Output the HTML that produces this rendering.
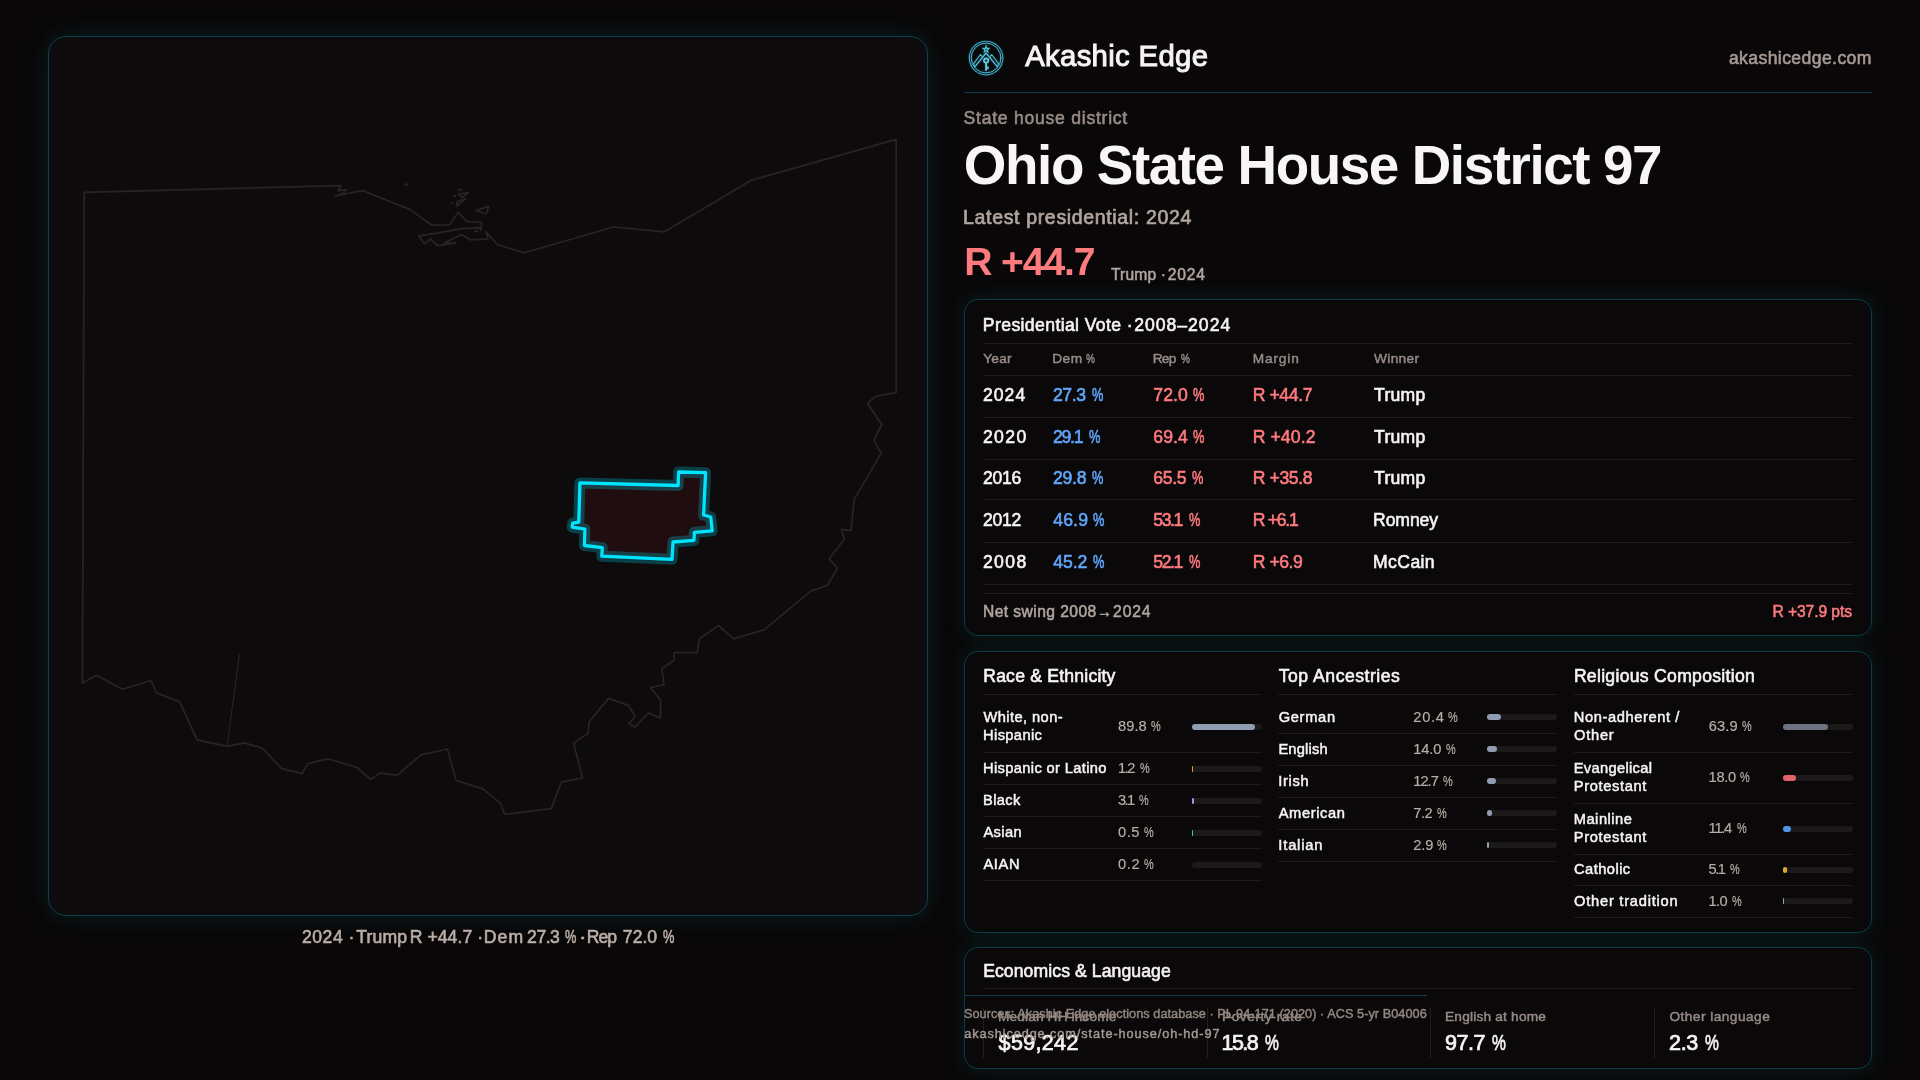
<!DOCTYPE html>
<html lang="en"><head><meta charset="utf-8"><title>Ohio State House District 97 · Akashic Edge</title>
<style>
html,body{margin:0;padding:0}
body{width:1920px;height:1080px;overflow:hidden;background:#090708;font-family:"Liberation Sans",sans-serif;position:relative}
.t{position:absolute;white-space:pre;line-height:1;display:block}
.hl{position:absolute}
.panel{position:absolute;box-sizing:border-box;border:1px solid #0b4250;border-radius:18px;background:#0d0b0c;box-shadow:0 0 24px rgba(0,232,240,.1)}
.card{position:absolute;box-sizing:border-box;border:1px solid #093c48;border-radius:14px;background:#0a0809;box-shadow:0 0 22px rgba(0,232,240,.1)}
.bar{position:absolute;border-radius:3px;background:#1b191a}
.bar i{display:block;height:100%;border-radius:3px}
svg{position:absolute;left:0;top:0}
</style></head><body>
<div id="page" style="position:absolute;left:0;top:0;width:1920px;height:1080px;will-change:transform">

<section class="panel" style="left:48px;top:36px;width:880px;height:880px"></section>
<svg width="1920" height="1080" viewBox="0 0 1920 1080" aria-label="Ohio map with House District 97 highlighted">
<g fill="none" stroke="#282423" stroke-width="1.7" stroke-linejoin="round">
<path d="M84.2 192.4 L320.0 186.2 L340.6 185.6 L338.2 190.6 L346.0 189.6 L343.6 193.6 L335.0 196.0 L362.5 190.6 L409.8 209.4 L431.9 225.2 L449.4 225.0 L458.1 212.5 L466.9 221.5 L481.6 222.5 L480.8 230.4 L479.4 227.6 L462.5 228.6 L418.8 236.2 L424.4 243.8 L430.6 238.8 L437.5 245.6 L455.6 243.1 L444.0 242.9 L461.9 234.6 L470.6 240.0 L488.1 238.8 L485.6 231.2 L497.5 244.8 L524.4 252.8 L613.5 227.0 L664.5 231.8 L751.2 180.3 L896.2 139.4 L896.3 392.5 L875.6 396.4 L867.4 403.4 L881.8 424.5 L873.9 440.2 L881.1 453.4 L854.1 499.6 L851.0 530.5 L841.4 529.3 L844.5 538.9 L829.3 558.6 L837.3 568.5 L827.4 585.3 L810.8 591.1 L764.0 629.8 L733.8 638.8 L718.4 625.6 L699.3 639.0 L697.2 652.4 L674.2 652.6 L674.2 660.0 L661.8 668.8 L664.1 684.5 L650.7 687.7 L660.7 700.1 L660.3 717.8 L648.2 713.1 L634.8 727.1 L629.0 723.5 L635.2 716.5 L628.4 705.4 L608.6 698.4 L589.0 722.0 L588.3 733.1 L573.6 743.1 L582.6 778.0 L561.3 782.1 L551.3 808.7 L504.5 814.2 L500.4 803.1 L482.8 788.9 L456.1 780.5 L447.3 749.0 L420.9 754.8 L397.5 775.1 L379.9 773.1 L370.8 779.4 L356.9 767.5 L327.8 758.8 L307.9 763.6 L302.0 773.6 L281.3 768.4 L262.3 748.2 L244.7 742.9 L227.1 746.4 L197.2 739.9 L179.6 701.9 L156.4 692.8 L150.9 680.5 L122.4 689.3 L96.4 675.2 L82.4 683.1 Z"/>
<path d="M239.4 654.4 L227.1 746.4" stroke-width="1.1"/>
<path d="M476.25 210.6 L488.75 206.25 L486.25 214 Z"/>
<path d="M456.25 206.25 L465.6 198.75 L457.5 201.25 Z M458.75 193.75 L468.75 192.75 L461.9 197.5 Z M457.5 189.4 L463 190.2 M453.1 195.4 L456.25 196.6 M450.6 202.25 L453 203"/>
<path d="M405.4 185.2 L406.3 183.8 L407.2 185.2 Z M475.2 231.6 L476.2 230.4 L477.2 231.7 Z"/>
</g>
<path d="M579.9 482.9 L678.1 485.5 L678.6 472.0 L705.6 472.7 L703.6 515.0 L710.7 517.0 L712.2 530.8 L694.4 532.3 L693.9 540.4 L673.0 542.0 L672.0 559.3 L601.8 556.2 L602.3 547.6 L584.4 545.5 L584.9 529.2 L572.2 527.2 L572.7 523.1 L578.8 522.1 Z" fill="#1f0d0f" stroke="#00e5ff" stroke-opacity=".24" stroke-width="11" stroke-linejoin="round"/>
<path d="M579.9 482.9 L678.1 485.5 L678.6 472.0 L705.6 472.7 L703.6 515.0 L710.7 517.0 L712.2 530.8 L694.4 532.3 L693.9 540.4 L673.0 542.0 L672.0 559.3 L601.8 556.2 L602.3 547.6 L584.4 545.5 L584.9 529.2 L572.2 527.2 L572.7 523.1 L578.8 522.1 Z" fill="none" stroke="#00e5ff" stroke-width="3.3" stroke-linejoin="round"/>
</svg>
<span id="t1" class="t" style="left:302.10px;top:929.00px;font-size:17.60px;font-weight:400;color:#b9aea7;letter-spacing:0.480px;-webkit-text-stroke:0.60px #b9aea7;">2024 ·</span><span id="t2" class="t" style="left:356.23px;top:929.00px;font-size:17.60px;font-weight:400;color:#b9aea7;letter-spacing:0.151px;-webkit-text-stroke:0.60px #b9aea7;">Trump</span><span id="t3" class="t" style="left:409.76px;top:929.00px;font-size:17.60px;font-weight:400;color:#b9aea7;letter-spacing:0.055px;-webkit-text-stroke:0.60px #b9aea7;">R +44.7 ·</span><span id="t4" class="t" style="left:483.76px;top:929.00px;font-size:17.60px;font-weight:400;color:#b9aea7;letter-spacing:1.073px;-webkit-text-stroke:0.60px #b9aea7;">Dem</span><span id="t5" class="t" style="left:527.10px;top:929.00px;font-size:17.60px;font-weight:400;color:#b9aea7;letter-spacing:-0.503px;-webkit-text-stroke:0.60px #b9aea7;">27.3</span><span id="t6" class="t" style="left:565.33px;top:929.00px;font-size:17.60px;font-weight:400;color:#b9aea7;-webkit-text-stroke:0.60px #b9aea7;transform:scaleX(0.728);transform-origin:0 0;">%</span><span id="t7" class="t" style="left:579.12px;top:929.00px;font-size:17.60px;font-weight:400;color:#b9aea7;-webkit-text-stroke:0.60px #b9aea7;transform:scaleX(1.269);transform-origin:0 0;">·</span><span id="t8" class="t" style="left:586.86px;top:929.00px;font-size:17.60px;font-weight:400;color:#b9aea7;letter-spacing:-1.038px;-webkit-text-stroke:0.60px #b9aea7;">Rep</span><span id="t9" class="t" style="left:622.87px;top:929.00px;font-size:17.60px;font-weight:400;color:#b9aea7;letter-spacing:-0.008px;-webkit-text-stroke:0.60px #b9aea7;">72.0</span><span id="t10" class="t" style="left:662.63px;top:929.00px;font-size:17.60px;font-weight:400;color:#b9aea7;-webkit-text-stroke:0.60px #b9aea7;transform:scaleX(0.728);transform-origin:0 0;">%</span>
<header>
<svg width="1920" height="1080" viewBox="0 0 1920 1080" aria-label="Akashic Edge logo">
<defs><filter id="lg" x="-30%" y="-30%" width="160%" height="160%"><feGaussianBlur stdDeviation="1.1"/></filter></defs>
<g transform="translate(986.1 58)">
<g filter="url(#lg)" opacity=".36" fill="none" stroke="#55c6e0" stroke-width="1.15" stroke-linecap="round" stroke-linejoin="round">
<circle r="16.8" stroke="#3ba5c1" stroke-width="1.15"/><circle r="14.9" stroke="#4bbbd6" stroke-width="1"/>
<path d="M-10.9 8.4 L0 -5 L10.9 8.4" stroke-width="1.25"/>
<path d="M-12.6 5.9 L-5.6 -3.5 L-3.5 -0.9 M12.6 5.9 L5.6 -3.5 L3.5 -0.9" stroke-width="1.1" stroke="#4cb9d4"/>
<path d="M-12.6 5.9 L-10.9 8.4 M12.6 5.9 L10.9 8.4" stroke-width=".9" stroke="#4cb9d4"/>
<path d="M0.00 -12.70 L0.94 -9.89 L3.90 -9.87 L1.52 -8.11 L2.41 -5.28 L0.00 -7.00 L-2.41 -5.28 L-1.52 -8.11 L-3.90 -9.87 L-0.94 -9.89 Z" fill="#55c6e0" stroke-width=".5"/>
<circle cx="0" cy="-8.5" r=".8" fill="#071216" stroke="none"/>
<circle cx="0" cy="2.6" r="2.15" stroke-width="1.7" stroke="#62d0e8"/>
<path d="M0 4.8 L0 12.8" stroke-width="1.8" stroke="#62d0e8" stroke-linecap="butt"/>
<path d="M.8 8.5 L2.7 8.5 L2.7 11.1 L.8 11.1 Z" fill="#62d0e8" stroke="none"/>
<rect x="1.5" y="9.4" width=".6" height=".8" fill="#0a0809" stroke="none"/>
</g>
<g fill="none" stroke="#55c6e0" stroke-width="1.15" stroke-linecap="round" stroke-linejoin="round">
<circle r="16.8" stroke="#3ba5c1" stroke-width="1.15"/><circle r="14.9" stroke="#4bbbd6" stroke-width="1"/>
<path d="M-10.9 8.4 L0 -5 L10.9 8.4" stroke-width="1.25"/>
<path d="M-12.6 5.9 L-5.6 -3.5 L-3.5 -0.9 M12.6 5.9 L5.6 -3.5 L3.5 -0.9" stroke-width="1.1" stroke="#4cb9d4"/>
<path d="M-12.6 5.9 L-10.9 8.4 M12.6 5.9 L10.9 8.4" stroke-width=".9" stroke="#4cb9d4"/>
<path d="M0.00 -12.70 L0.94 -9.89 L3.90 -9.87 L1.52 -8.11 L2.41 -5.28 L0.00 -7.00 L-2.41 -5.28 L-1.52 -8.11 L-3.90 -9.87 L-0.94 -9.89 Z" fill="#55c6e0" stroke-width=".5"/>
<circle cx="0" cy="-8.5" r=".8" fill="#071216" stroke="none"/>
<circle cx="0" cy="2.6" r="2.15" stroke-width="1.7" stroke="#62d0e8"/>
<path d="M0 4.8 L0 12.8" stroke-width="1.8" stroke="#62d0e8" stroke-linecap="butt"/>
<path d="M.8 8.5 L2.7 8.5 L2.7 11.1 L.8 11.1 Z" fill="#62d0e8" stroke="none"/>
<rect x="1.5" y="9.4" width=".6" height=".8" fill="#0a0809" stroke="none"/>
</g>
</g></svg>
<span id="t11" class="t" style="left:1025.14px;top:41.00px;font-size:29.34px;font-weight:400;color:#f6f4f2;letter-spacing:0.323px;-webkit-text-stroke:1.00px #f6f4f2;">Akashic Edge</span>
<span id="t12" class="t" style="left:1728.93px;top:50.00px;font-size:17.60px;font-weight:400;color:#a59a94;letter-spacing:0.398px;-webkit-text-stroke:0.60px #a59a94;">akashicedge.com</span>
<div class="hl" style="left:964px;top:92px;width:908px;height:1px;background:#0d3f4d"></div>
</header>
<main>
<span id="t13" class="t" style="left:963.60px;top:110.00px;font-size:17.60px;font-weight:400;color:#968b86;letter-spacing:0.736px;-webkit-text-stroke:0.60px #968b86;">State house district</span>
<h1 style="margin:0;font-weight:inherit;font-size:inherit"><span id="t14" class="t" style="left:963.83px;top:138.00px;font-size:54.77px;font-weight:700;color:#f8f6f4;letter-spacing:-1.401px;">Ohio State House District 97</span></h1>
<span id="t15" class="t" style="left:963.12px;top:208.00px;font-size:19.56px;font-weight:400;color:#b0a59f;letter-spacing:0.634px;-webkit-text-stroke:0.67px #b0a59f;">Latest presidential: 2024</span>
<span id="t16" class="t" style="left:964.29px;top:242.00px;font-size:39.12px;font-weight:700;color:#fd7a7f;letter-spacing:-1.145px;">R +44.7</span>
<span id="t17" class="t" style="left:1110.98px;top:267.00px;font-size:15.65px;font-weight:400;color:#b0a59f;letter-spacing:0.133px;-webkit-text-stroke:0.53px #b0a59f;">Trump ·</span><span id="t18" class="t" style="left:1167.73px;top:267.00px;font-size:15.65px;font-weight:400;color:#b0a59f;letter-spacing:0.845px;-webkit-text-stroke:0.53px #b0a59f;">2024</span>
<section class="card" style="left:964px;top:299px;width:908px;height:337px"></section>
<span id="t19" class="t" style="left:982.86px;top:317.00px;font-size:17.60px;font-weight:400;color:#f6f4f2;letter-spacing:0.385px;-webkit-text-stroke:0.60px #f6f4f2;">Presidential Vote ·</span><span id="t20" class="t" style="left:1134.20px;top:317.00px;font-size:17.60px;font-weight:400;color:#f6f4f2;letter-spacing:0.994px;-webkit-text-stroke:0.60px #f6f4f2;">2008–2024</span>
<div class="hl" style="left:983px;top:343px;width:870px;height:1px;background:#1c1a1b"></div>
<span id="t21" class="t" style="left:983.18px;top:352.00px;font-size:13.69px;font-weight:400;color:#968b86;letter-spacing:0.241px;-webkit-text-stroke:0.47px #968b86;">Year</span>
<span id="t22" class="t" style="left:1052.30px;top:352.00px;font-size:13.69px;font-weight:400;color:#968b86;letter-spacing:0.425px;-webkit-text-stroke:0.47px #968b86;">Dem</span><span id="t23" class="t" style="left:1085.97px;top:352.00px;font-size:13.69px;font-weight:400;color:#968b86;-webkit-text-stroke:0.47px #968b86;transform:scaleX(0.733);transform-origin:0 0;">%</span>
<span id="t24" class="t" style="left:1152.70px;top:352.00px;font-size:13.69px;font-weight:400;color:#968b86;letter-spacing:-0.745px;-webkit-text-stroke:0.47px #968b86;">Rep</span><span id="t25" class="t" style="left:1180.57px;top:352.00px;font-size:13.69px;font-weight:400;color:#968b86;-webkit-text-stroke:0.47px #968b86;transform:scaleX(0.733);transform-origin:0 0;">%</span>
<span id="t26" class="t" style="left:1252.70px;top:352.00px;font-size:13.69px;font-weight:400;color:#968b86;letter-spacing:0.843px;-webkit-text-stroke:0.47px #968b86;">Margin</span>
<span id="t27" class="t" style="left:1374.10px;top:352.00px;font-size:13.69px;font-weight:400;color:#968b86;letter-spacing:0.303px;-webkit-text-stroke:0.47px #968b86;">Winner</span>
<div class="hl" style="left:983px;top:375px;width:870px;height:1px;background:#1c1a1b"></div>
<span id="t28" class="t" style="left:982.90px;top:387.00px;font-size:17.60px;font-weight:400;color:#f6f4f2;letter-spacing:1.052px;-webkit-text-stroke:0.60px #f6f4f2;">2024</span>
<span id="t29" class="t" style="left:1052.90px;top:387.00px;font-size:17.60px;font-weight:400;color:#60a5fa;letter-spacing:-0.369px;-webkit-text-stroke:0.60px #60a5fa;">27.3</span><span id="t30" class="t" style="left:1091.53px;top:387.00px;font-size:17.60px;font-weight:400;color:#60a5fa;-webkit-text-stroke:0.60px #60a5fa;transform:scaleX(0.728);transform-origin:0 0;">%</span>
<span id="t31" class="t" style="left:1153.27px;top:387.00px;font-size:17.60px;font-weight:400;color:#fd7a7f;letter-spacing:0.125px;-webkit-text-stroke:0.60px #fd7a7f;">72.0</span><span id="t32" class="t" style="left:1193.43px;top:387.00px;font-size:17.60px;font-weight:400;color:#fd7a7f;-webkit-text-stroke:0.60px #fd7a7f;transform:scaleX(0.728);transform-origin:0 0;">%</span>
<span id="t33" class="t" style="left:1252.66px;top:387.00px;font-size:17.60px;font-weight:400;color:#fd7a7f;letter-spacing:-0.388px;-webkit-text-stroke:0.60px #fd7a7f;">R +44.7</span>
<span id="t34" class="t" style="left:1374.08px;top:387.00px;font-size:17.60px;font-weight:400;color:#f6f4f2;letter-spacing:0.251px;-webkit-text-stroke:0.60px #f6f4f2;">Trump</span>
<div class="hl" style="left:983px;top:417px;width:870px;height:1px;background:#1c1a1b"></div>
<span id="t35" class="t" style="left:982.90px;top:429.00px;font-size:17.60px;font-weight:400;color:#f6f4f2;letter-spacing:1.380px;-webkit-text-stroke:0.60px #f6f4f2;">2020</span>
<span id="t36" class="t" style="left:1052.90px;top:429.00px;font-size:17.60px;font-weight:400;color:#60a5fa;letter-spacing:-1.171px;-webkit-text-stroke:0.60px #60a5fa;">29.1</span><span id="t37" class="t" style="left:1089.13px;top:429.00px;font-size:17.60px;font-weight:400;color:#60a5fa;-webkit-text-stroke:0.60px #60a5fa;transform:scaleX(0.728);transform-origin:0 0;">%</span>
<span id="t38" class="t" style="left:1153.26px;top:429.00px;font-size:17.60px;font-weight:400;color:#fd7a7f;letter-spacing:0.109px;-webkit-text-stroke:0.60px #fd7a7f;">69.4</span><span id="t39" class="t" style="left:1193.43px;top:429.00px;font-size:17.60px;font-weight:400;color:#fd7a7f;-webkit-text-stroke:0.60px #fd7a7f;transform:scaleX(0.728);transform-origin:0 0;">%</span>
<span id="t40" class="t" style="left:1252.66px;top:429.00px;font-size:17.60px;font-weight:400;color:#fd7a7f;letter-spacing:0.112px;-webkit-text-stroke:0.60px #fd7a7f;">R +40.2</span>
<span id="t41" class="t" style="left:1374.08px;top:429.00px;font-size:17.60px;font-weight:400;color:#f6f4f2;letter-spacing:0.251px;-webkit-text-stroke:0.60px #f6f4f2;">Trump</span>
<div class="hl" style="left:983px;top:459px;width:870px;height:1px;background:#1c1a1b"></div>
<span id="t42" class="t" style="left:982.90px;top:470.00px;font-size:17.60px;font-weight:400;color:#f6f4f2;letter-spacing:-0.247px;-webkit-text-stroke:0.60px #f6f4f2;">2016</span>
<span id="t43" class="t" style="left:1052.90px;top:470.00px;font-size:17.60px;font-weight:400;color:#60a5fa;letter-spacing:-0.171px;-webkit-text-stroke:0.60px #60a5fa;">29.8</span><span id="t44" class="t" style="left:1092.13px;top:470.00px;font-size:17.60px;font-weight:400;color:#60a5fa;-webkit-text-stroke:0.60px #60a5fa;transform:scaleX(0.728);transform-origin:0 0;">%</span>
<span id="t45" class="t" style="left:1153.26px;top:470.00px;font-size:17.60px;font-weight:400;color:#fd7a7f;letter-spacing:-0.296px;-webkit-text-stroke:0.60px #fd7a7f;">65.5</span><span id="t46" class="t" style="left:1192.13px;top:470.00px;font-size:17.60px;font-weight:400;color:#fd7a7f;-webkit-text-stroke:0.60px #fd7a7f;transform:scaleX(0.728);transform-origin:0 0;">%</span>
<span id="t47" class="t" style="left:1252.66px;top:470.00px;font-size:17.60px;font-weight:400;color:#fd7a7f;letter-spacing:-0.363px;-webkit-text-stroke:0.60px #fd7a7f;">R +35.8</span>
<span id="t48" class="t" style="left:1374.08px;top:470.00px;font-size:17.60px;font-weight:400;color:#f6f4f2;letter-spacing:0.251px;-webkit-text-stroke:0.60px #f6f4f2;">Trump</span>
<div class="hl" style="left:983px;top:499px;width:870px;height:1px;background:#1c1a1b"></div>
<span id="t49" class="t" style="left:982.90px;top:512.00px;font-size:17.60px;font-weight:400;color:#f6f4f2;letter-spacing:-0.223px;-webkit-text-stroke:0.60px #f6f4f2;">2012</span>
<span id="t50" class="t" style="left:1053.25px;top:512.00px;font-size:17.60px;font-weight:400;color:#60a5fa;letter-spacing:0.151px;-webkit-text-stroke:0.60px #60a5fa;">46.9</span><span id="t51" class="t" style="left:1093.43px;top:512.00px;font-size:17.60px;font-weight:400;color:#60a5fa;-webkit-text-stroke:0.60px #60a5fa;transform:scaleX(0.728);transform-origin:0 0;">%</span>
<span id="t52" class="t" style="left:1153.32px;top:512.00px;font-size:17.60px;font-weight:400;color:#fd7a7f;letter-spacing:-1.410px;-webkit-text-stroke:0.60px #fd7a7f;">53.1</span><span id="t53" class="t" style="left:1188.83px;top:512.00px;font-size:17.60px;font-weight:400;color:#fd7a7f;-webkit-text-stroke:0.60px #fd7a7f;transform:scaleX(0.728);transform-origin:0 0;">%</span>
<span id="t54" class="t" style="left:1252.66px;top:512.00px;font-size:17.60px;font-weight:400;color:#fd7a7f;letter-spacing:-1.253px;-webkit-text-stroke:0.60px #fd7a7f;">R +6.1</span>
<span id="t55" class="t" style="left:1373.06px;top:512.00px;font-size:17.60px;font-weight:400;color:#f6f4f2;letter-spacing:-0.089px;-webkit-text-stroke:0.60px #f6f4f2;">Romney</span>
<div class="hl" style="left:983px;top:542px;width:870px;height:1px;background:#1c1a1b"></div>
<span id="t56" class="t" style="left:982.90px;top:554.00px;font-size:17.60px;font-weight:400;color:#f6f4f2;letter-spacing:1.427px;-webkit-text-stroke:0.60px #f6f4f2;">2008</span>
<span id="t57" class="t" style="left:1053.25px;top:554.00px;font-size:17.60px;font-weight:400;color:#60a5fa;letter-spacing:-0.052px;-webkit-text-stroke:0.60px #60a5fa;">45.2</span><span id="t58" class="t" style="left:1092.83px;top:554.00px;font-size:17.60px;font-weight:400;color:#60a5fa;-webkit-text-stroke:0.60px #60a5fa;transform:scaleX(0.728);transform-origin:0 0;">%</span>
<span id="t59" class="t" style="left:1153.32px;top:554.00px;font-size:17.60px;font-weight:400;color:#fd7a7f;letter-spacing:-1.410px;-webkit-text-stroke:0.60px #fd7a7f;">52.1</span><span id="t60" class="t" style="left:1188.83px;top:554.00px;font-size:17.60px;font-weight:400;color:#fd7a7f;-webkit-text-stroke:0.60px #fd7a7f;transform:scaleX(0.728);transform-origin:0 0;">%</span>
<span id="t61" class="t" style="left:1252.66px;top:554.00px;font-size:17.60px;font-weight:400;color:#fd7a7f;letter-spacing:-0.429px;-webkit-text-stroke:0.60px #fd7a7f;">R +6.9</span>
<span id="t62" class="t" style="left:1373.06px;top:554.00px;font-size:17.60px;font-weight:400;color:#f6f4f2;letter-spacing:0.391px;-webkit-text-stroke:0.60px #f6f4f2;">McCain</span>
<div class="hl" style="left:983px;top:584px;width:870px;height:1px;background:#1c1a1b"></div>
<div class="hl" style="left:983px;top:593px;width:870px;height:1px;background:#1c1a1b"></div>
<span id="t63" class="t" style="left:983.00px;top:604.00px;font-size:15.65px;font-weight:400;color:#b0a59f;letter-spacing:0.422px;-webkit-text-stroke:0.53px #b0a59f;">Net swing 2008</span><span id="t64" class="t" style="left:1097.04px;top:604.00px;font-size:15.65px;font-weight:400;color:#b0a59f;-webkit-text-stroke:0.53px #b0a59f;transform:scaleX(0.972);transform-origin:0 0;">→</span><span id="t65" class="t" style="left:1113.03px;top:604.00px;font-size:15.65px;font-weight:400;color:#b0a59f;letter-spacing:0.912px;-webkit-text-stroke:0.53px #b0a59f;">2024</span>
<span id="t66" class="t" style="left:1772.50px;top:604.00px;font-size:15.65px;font-weight:400;color:#fd7a7f;letter-spacing:-0.097px;-webkit-text-stroke:0.53px #fd7a7f;">R +37.9 pts</span>
<section class="card" style="left:964px;top:651px;width:908px;height:282px"></section>
<span id="t67" class="t" style="left:983.22px;top:668.00px;font-size:17.60px;font-weight:400;color:#f6f4f2;letter-spacing:0.207px;-webkit-text-stroke:0.60px #f6f4f2;">Race &amp; Ethnicity</span>
<div class="hl" style="left:983px;top:694px;width:279px;height:1px;background:#1c1a1b"></div>
<span id="t68" class="t" style="left:983.38px;top:710.00px;font-size:14.67px;font-weight:400;color:#f6f4f2;letter-spacing:0.427px;-webkit-text-stroke:0.50px #f6f4f2;">White, non-</span>
<span id="t69" class="t" style="left:983.05px;top:728.00px;font-size:14.67px;font-weight:400;color:#f6f4f2;letter-spacing:0.372px;-webkit-text-stroke:0.50px #f6f4f2;">Hispanic</span>
<span id="t70" class="t" style="left:1118.07px;top:719.00px;font-size:14.67px;font-weight:400;color:#b9aea7;letter-spacing:0.025px;-webkit-text-stroke:0.18px #b9aea7;">89.8</span><span id="t71" class="t" style="left:1150.73px;top:719.00px;font-size:14.67px;font-weight:400;color:#b9aea7;-webkit-text-stroke:0.18px #b9aea7;transform:scaleX(0.745);transform-origin:0 0;">%</span>
<div class="bar" style="left:1192px;top:724px;width:70px;height:6px"><i style="width:62.86px;background:#8f9bb0"></i></div>
<div class="hl" style="left:983px;top:752px;width:279px;height:1px;background:#1c1a1b"></div>
<span id="t72" class="t" style="left:983.05px;top:761.00px;font-size:14.67px;font-weight:400;color:#f6f4f2;letter-spacing:0.360px;-webkit-text-stroke:0.50px #f6f4f2;">Hispanic or Latino</span>
<span id="t73" class="t" style="left:1117.95px;top:761.00px;font-size:14.67px;font-weight:400;color:#b9aea7;letter-spacing:-1.407px;-webkit-text-stroke:0.18px #b9aea7;">1.2</span><span id="t74" class="t" style="left:1139.68px;top:761.00px;font-size:14.67px;font-weight:400;color:#b9aea7;-webkit-text-stroke:0.18px #b9aea7;transform:scaleX(0.745);transform-origin:0 0;">%</span>
<div class="bar" style="left:1192px;top:766px;width:70px;height:6px"><i style="width:1.25px;background:#f59e0b"></i></div>
<div class="hl" style="left:983px;top:784px;width:279px;height:1px;background:#1c1a1b"></div>
<span id="t75" class="t" style="left:983.05px;top:793.00px;font-size:14.67px;font-weight:400;color:#f6f4f2;letter-spacing:0.357px;-webkit-text-stroke:0.50px #f6f4f2;">Black</span>
<span id="t76" class="t" style="left:1118.09px;top:793.00px;font-size:14.67px;font-weight:400;color:#b9aea7;letter-spacing:-1.615px;-webkit-text-stroke:0.18px #b9aea7;">3.1</span><span id="t77" class="t" style="left:1139.43px;top:793.00px;font-size:14.67px;font-weight:400;color:#b9aea7;-webkit-text-stroke:0.18px #b9aea7;transform:scaleX(0.745);transform-origin:0 0;">%</span>
<div class="bar" style="left:1192px;top:798px;width:70px;height:6px"><i style="width:2.17px;background:#a78bfa"></i></div>
<div class="hl" style="left:983px;top:816px;width:279px;height:1px;background:#1c1a1b"></div>
<span id="t78" class="t" style="left:983.38px;top:825.00px;font-size:14.67px;font-weight:400;color:#f6f4f2;letter-spacing:0.427px;-webkit-text-stroke:0.50px #f6f4f2;">Asian</span>
<span id="t79" class="t" style="left:1118.12px;top:825.00px;font-size:14.67px;font-weight:400;color:#b9aea7;letter-spacing:0.507px;-webkit-text-stroke:0.18px #b9aea7;">0.5</span><span id="t80" class="t" style="left:1143.73px;top:825.00px;font-size:14.67px;font-weight:400;color:#b9aea7;-webkit-text-stroke:0.18px #b9aea7;transform:scaleX(0.745);transform-origin:0 0;">%</span>
<div class="bar" style="left:1192px;top:830px;width:70px;height:6px"><i style="width:1.25px;background:#34d399"></i></div>
<div class="hl" style="left:983px;top:848px;width:279px;height:1px;background:#1c1a1b"></div>
<span id="t81" class="t" style="left:983.38px;top:857.00px;font-size:14.67px;font-weight:400;color:#f6f4f2;letter-spacing:0.664px;-webkit-text-stroke:0.50px #f6f4f2;">AIAN</span>
<span id="t82" class="t" style="left:1118.12px;top:857.00px;font-size:14.67px;font-weight:400;color:#b9aea7;letter-spacing:0.535px;-webkit-text-stroke:0.18px #b9aea7;">0.2</span><span id="t83" class="t" style="left:1143.73px;top:857.00px;font-size:14.67px;font-weight:400;color:#b9aea7;-webkit-text-stroke:0.18px #b9aea7;transform:scaleX(0.745);transform-origin:0 0;">%</span>
<div class="bar" style="left:1192px;top:862px;width:70px;height:6px"></div>
<div class="hl" style="left:983px;top:880px;width:279px;height:1px;background:#1c1a1b"></div>
<span id="t84" class="t" style="left:1278.76px;top:668.00px;font-size:17.60px;font-weight:400;color:#f6f4f2;letter-spacing:0.513px;-webkit-text-stroke:0.60px #f6f4f2;">Top Ancestries</span>
<div class="hl" style="left:1278px;top:694px;width:280px;height:1px;background:#1c1a1b"></div>
<span id="t85" class="t" style="left:1278.69px;top:710.00px;font-size:14.67px;font-weight:400;color:#f6f4f2;letter-spacing:0.681px;-webkit-text-stroke:0.50px #f6f4f2;">German</span>
<span id="t86" class="t" style="left:1413.36px;top:710.00px;font-size:14.67px;font-weight:400;color:#b9aea7;letter-spacing:0.632px;-webkit-text-stroke:0.18px #b9aea7;">20.4</span><span id="t87" class="t" style="left:1447.95px;top:710.00px;font-size:14.67px;font-weight:400;color:#b9aea7;-webkit-text-stroke:0.18px #b9aea7;transform:scaleX(0.745);transform-origin:0 0;">%</span>
<div class="bar" style="left:1487px;top:714px;width:70px;height:6px"><i style="width:14.28px;background:#8f9bb0"></i></div>
<div class="hl" style="left:1278px;top:733px;width:280px;height:1px;background:#1c1a1b"></div>
<span id="t88" class="t" style="left:1278.38px;top:742.00px;font-size:14.67px;font-weight:400;color:#f6f4f2;letter-spacing:0.201px;-webkit-text-stroke:0.50px #f6f4f2;">English</span>
<span id="t89" class="t" style="left:1413.28px;top:742.00px;font-size:14.67px;font-weight:400;color:#b9aea7;letter-spacing:-0.101px;-webkit-text-stroke:0.18px #b9aea7;">14.0</span><span id="t90" class="t" style="left:1445.61px;top:742.00px;font-size:14.67px;font-weight:400;color:#b9aea7;-webkit-text-stroke:0.18px #b9aea7;transform:scaleX(0.745);transform-origin:0 0;">%</span>
<div class="bar" style="left:1487px;top:746px;width:70px;height:6px"><i style="width:9.80px;background:#8f9bb0"></i></div>
<div class="hl" style="left:1278px;top:765px;width:280px;height:1px;background:#1c1a1b"></div>
<span id="t91" class="t" style="left:1278.36px;top:774.00px;font-size:14.67px;font-weight:400;color:#f6f4f2;letter-spacing:0.636px;-webkit-text-stroke:0.50px #f6f4f2;">Irish</span>
<span id="t92" class="t" style="left:1413.28px;top:774.00px;font-size:14.67px;font-weight:400;color:#b9aea7;letter-spacing:-1.004px;-webkit-text-stroke:0.18px #b9aea7;">12.7</span><span id="t93" class="t" style="left:1442.81px;top:774.00px;font-size:14.67px;font-weight:400;color:#b9aea7;-webkit-text-stroke:0.18px #b9aea7;transform:scaleX(0.745);transform-origin:0 0;">%</span>
<div class="bar" style="left:1487px;top:778px;width:70px;height:6px"><i style="width:8.89px;background:#8f9bb0"></i></div>
<div class="hl" style="left:1278px;top:797px;width:280px;height:1px;background:#1c1a1b"></div>
<span id="t94" class="t" style="left:1278.71px;top:806.00px;font-size:14.67px;font-weight:400;color:#f6f4f2;letter-spacing:0.602px;-webkit-text-stroke:0.50px #f6f4f2;">American</span>
<span id="t95" class="t" style="left:1413.34px;top:806.00px;font-size:14.67px;font-weight:400;color:#b9aea7;letter-spacing:-0.464px;-webkit-text-stroke:0.18px #b9aea7;">7.2</span><span id="t96" class="t" style="left:1436.95px;top:806.00px;font-size:14.67px;font-weight:400;color:#b9aea7;-webkit-text-stroke:0.18px #b9aea7;transform:scaleX(0.745);transform-origin:0 0;">%</span>
<div class="bar" style="left:1487px;top:810px;width:70px;height:6px"><i style="width:5.04px;background:#8f9bb0"></i></div>
<div class="hl" style="left:1278px;top:829px;width:280px;height:1px;background:#1c1a1b"></div>
<span id="t97" class="t" style="left:1278.36px;top:838.00px;font-size:14.67px;font-weight:400;color:#f6f4f2;letter-spacing:0.823px;-webkit-text-stroke:0.50px #f6f4f2;">Italian</span>
<span id="t98" class="t" style="left:1413.36px;top:838.00px;font-size:14.67px;font-weight:400;color:#b9aea7;letter-spacing:-0.223px;-webkit-text-stroke:0.18px #b9aea7;">2.9</span><span id="t99" class="t" style="left:1437.45px;top:838.00px;font-size:14.67px;font-weight:400;color:#b9aea7;-webkit-text-stroke:0.18px #b9aea7;transform:scaleX(0.745);transform-origin:0 0;">%</span>
<div class="bar" style="left:1487px;top:842px;width:70px;height:6px"><i style="width:2.03px;background:#8f9bb0"></i></div>
<div class="hl" style="left:1278px;top:861px;width:280px;height:1px;background:#1c1a1b"></div>
<span id="t100" class="t" style="left:1573.89px;top:668.00px;font-size:17.60px;font-weight:400;color:#f6f4f2;letter-spacing:0.294px;-webkit-text-stroke:0.60px #f6f4f2;">Religious Composition</span>
<div class="hl" style="left:1574px;top:694px;width:279px;height:1px;background:#1c1a1b"></div>
<span id="t101" class="t" style="left:1573.73px;top:710.00px;font-size:14.67px;font-weight:400;color:#f6f4f2;letter-spacing:0.601px;-webkit-text-stroke:0.50px #f6f4f2;">Non-adherent /</span>
<span id="t102" class="t" style="left:1574.08px;top:728.00px;font-size:14.67px;font-weight:400;color:#f6f4f2;letter-spacing:0.745px;-webkit-text-stroke:0.50px #f6f4f2;">Other</span>
<span id="t103" class="t" style="left:1708.65px;top:719.00px;font-size:14.67px;font-weight:400;color:#b9aea7;letter-spacing:0.134px;-webkit-text-stroke:0.18px #b9aea7;">63.9</span><span id="t104" class="t" style="left:1741.60px;top:719.00px;font-size:14.67px;font-weight:400;color:#b9aea7;-webkit-text-stroke:0.18px #b9aea7;transform:scaleX(0.745);transform-origin:0 0;">%</span>
<div class="bar" style="left:1783px;top:724px;width:70px;height:6px"><i style="width:44.73px;background:#6b7280"></i></div>
<div class="hl" style="left:1574px;top:752px;width:279px;height:1px;background:#1c1a1b"></div>
<span id="t105" class="t" style="left:1573.73px;top:761.00px;font-size:14.67px;font-weight:400;color:#f6f4f2;letter-spacing:0.333px;-webkit-text-stroke:0.50px #f6f4f2;">Evangelical</span>
<span id="t106" class="t" style="left:1573.73px;top:779.00px;font-size:14.67px;font-weight:400;color:#f6f4f2;letter-spacing:0.656px;-webkit-text-stroke:0.50px #f6f4f2;">Protestant</span>
<span id="t107" class="t" style="left:1708.62px;top:770.00px;font-size:14.67px;font-weight:400;color:#b9aea7;letter-spacing:-0.301px;-webkit-text-stroke:0.18px #b9aea7;">18.0</span><span id="t108" class="t" style="left:1740.35px;top:770.00px;font-size:14.67px;font-weight:400;color:#b9aea7;-webkit-text-stroke:0.18px #b9aea7;transform:scaleX(0.745);transform-origin:0 0;">%</span>
<div class="bar" style="left:1783px;top:775px;width:70px;height:6px"><i style="width:12.60px;background:#e2646b"></i></div>
<div class="hl" style="left:1574px;top:803px;width:279px;height:1px;background:#1c1a1b"></div>
<span id="t109" class="t" style="left:1573.73px;top:812.00px;font-size:14.67px;font-weight:400;color:#f6f4f2;letter-spacing:0.516px;-webkit-text-stroke:0.50px #f6f4f2;">Mainline</span>
<span id="t110" class="t" style="left:1573.73px;top:830.00px;font-size:14.67px;font-weight:400;color:#f6f4f2;letter-spacing:0.656px;-webkit-text-stroke:0.50px #f6f4f2;">Protestant</span>
<span id="t111" class="t" style="left:1708.62px;top:821.00px;font-size:14.67px;font-weight:400;color:#b9aea7;letter-spacing:-1.258px;-webkit-text-stroke:0.18px #b9aea7;">11.4</span><span id="t112" class="t" style="left:1736.55px;top:821.00px;font-size:14.67px;font-weight:400;color:#b9aea7;-webkit-text-stroke:0.18px #b9aea7;transform:scaleX(0.745);transform-origin:0 0;">%</span>
<div class="bar" style="left:1783px;top:826px;width:70px;height:6px"><i style="width:7.98px;background:#4f94e6"></i></div>
<div class="hl" style="left:1574px;top:854px;width:279px;height:1px;background:#1c1a1b"></div>
<span id="t113" class="t" style="left:1574.01px;top:862.00px;font-size:14.67px;font-weight:400;color:#f6f4f2;letter-spacing:0.462px;-webkit-text-stroke:0.50px #f6f4f2;">Catholic</span>
<span id="t114" class="t" style="left:1708.54px;top:862.00px;font-size:14.67px;font-weight:400;color:#b9aea7;letter-spacing:-1.502px;-webkit-text-stroke:0.18px #b9aea7;">5.1</span><span id="t115" class="t" style="left:1730.10px;top:862.00px;font-size:14.67px;font-weight:400;color:#b9aea7;-webkit-text-stroke:0.18px #b9aea7;transform:scaleX(0.745);transform-origin:0 0;">%</span>
<div class="bar" style="left:1783px;top:867px;width:70px;height:6px"><i style="width:3.57px;background:#e6aa28"></i></div>
<div class="hl" style="left:1574px;top:885px;width:279px;height:1px;background:#1c1a1b"></div>
<span id="t116" class="t" style="left:1574.08px;top:894.00px;font-size:14.67px;font-weight:400;color:#f6f4f2;letter-spacing:0.761px;-webkit-text-stroke:0.50px #f6f4f2;">Other tradition</span>
<span id="t117" class="t" style="left:1708.62px;top:894.00px;font-size:14.67px;font-weight:400;color:#b9aea7;letter-spacing:-0.651px;-webkit-text-stroke:0.18px #b9aea7;">1.0</span><span id="t118" class="t" style="left:1731.95px;top:894.00px;font-size:14.67px;font-weight:400;color:#b9aea7;-webkit-text-stroke:0.18px #b9aea7;transform:scaleX(0.745);transform-origin:0 0;">%</span>
<div class="bar" style="left:1783px;top:898px;width:70px;height:6px"><i style="width:1.25px;background:#94a3b8"></i></div>
<div class="hl" style="left:1574px;top:917px;width:279px;height:1px;background:#1c1a1b"></div>
<section class="card" style="left:964px;top:947px;width:908px;height:122px"></section>
<span id="t119" class="t" style="left:983.16px;top:963.00px;font-size:17.60px;font-weight:400;color:#f6f4f2;letter-spacing:0.091px;-webkit-text-stroke:0.60px #f6f4f2;">Economics &amp; Language</span>
<div class="hl" style="left:983px;top:988px;width:870px;height:1px;background:#1c1a1b"></div>
<div class="hl" style="left:983px;top:1008px;width:1px;height:50px;background:#201e1f"></div>
<span id="t120" class="t" style="left:997.99px;top:1010.00px;font-size:13.69px;font-weight:400;color:#968b86;letter-spacing:0.134px;-webkit-text-stroke:0.47px #968b86;">Median HH income</span>
<span id="t121" class="t" style="left:998.60px;top:1033.00px;font-size:21.52px;font-weight:400;color:#f6f4f2;letter-spacing:0.333px;-webkit-text-stroke:0.73px #f6f4f2;">$59,242</span>
<div class="hl" style="left:1207px;top:1008px;width:1px;height:50px;background:#201e1f"></div>
<span id="t122" class="t" style="left:1221.99px;top:1010.00px;font-size:13.69px;font-weight:400;color:#968b86;letter-spacing:0.556px;-webkit-text-stroke:0.47px #968b86;">Poverty rate</span>
<span id="t123" class="t" style="left:1221.54px;top:1033.00px;font-size:21.52px;font-weight:400;color:#f6f4f2;letter-spacing:-1.555px;-webkit-text-stroke:0.73px #f6f4f2;">15.8</span><span id="t124" class="t" style="left:1265.42px;top:1033.00px;font-size:21.52px;font-weight:400;color:#f6f4f2;-webkit-text-stroke:0.73px #f6f4f2;transform:scaleX(0.725);transform-origin:0 0;">%</span>
<div class="hl" style="left:1430px;top:1008px;width:1px;height:50px;background:#201e1f"></div>
<span id="t125" class="t" style="left:1444.99px;top:1010.00px;font-size:13.69px;font-weight:400;color:#968b86;letter-spacing:0.202px;-webkit-text-stroke:0.47px #968b86;">English at home</span>
<span id="t126" class="t" style="left:1444.99px;top:1033.00px;font-size:21.52px;font-weight:400;color:#f6f4f2;letter-spacing:-0.506px;-webkit-text-stroke:0.73px #f6f4f2;">97.7</span><span id="t127" class="t" style="left:1491.92px;top:1033.00px;font-size:21.52px;font-weight:400;color:#f6f4f2;-webkit-text-stroke:0.73px #f6f4f2;transform:scaleX(0.725);transform-origin:0 0;">%</span>
<div class="hl" style="left:1654px;top:1008px;width:1px;height:50px;background:#201e1f"></div>
<span id="t128" class="t" style="left:1669.38px;top:1010.00px;font-size:13.69px;font-weight:400;color:#968b86;letter-spacing:0.465px;-webkit-text-stroke:0.47px #968b86;">Other language</span>
<span id="t129" class="t" style="left:1668.98px;top:1033.00px;font-size:21.52px;font-weight:400;color:#f6f4f2;letter-spacing:-0.295px;-webkit-text-stroke:0.73px #f6f4f2;">2.3</span><span id="t130" class="t" style="left:1704.92px;top:1033.00px;font-size:21.52px;font-weight:400;color:#f6f4f2;-webkit-text-stroke:0.73px #f6f4f2;transform:scaleX(0.725);transform-origin:0 0;">%</span>
</main>
<footer>
<div class="hl" style="left:964px;top:995px;width:463px;height:1px;background:#0d3f4d"></div>
<span id="t131" class="t" style="left:963.94px;top:1008.00px;font-size:12.71px;font-weight:400;color:#91877f;letter-spacing:0.047px;-webkit-text-stroke:0.43px #91877f;">Sources: Akashic Edge elections database · PL 94-171 (2020) · ACS 5-yr B04006</span>
<span id="t132" class="t" style="left:964.17px;top:1028.00px;font-size:12.71px;font-weight:400;color:#a59a94;letter-spacing:0.920px;-webkit-text-stroke:0.43px #a59a94;">akashicedge.com/state-house/oh-hd-97</span>
</footer>
</div>
</body></html>
